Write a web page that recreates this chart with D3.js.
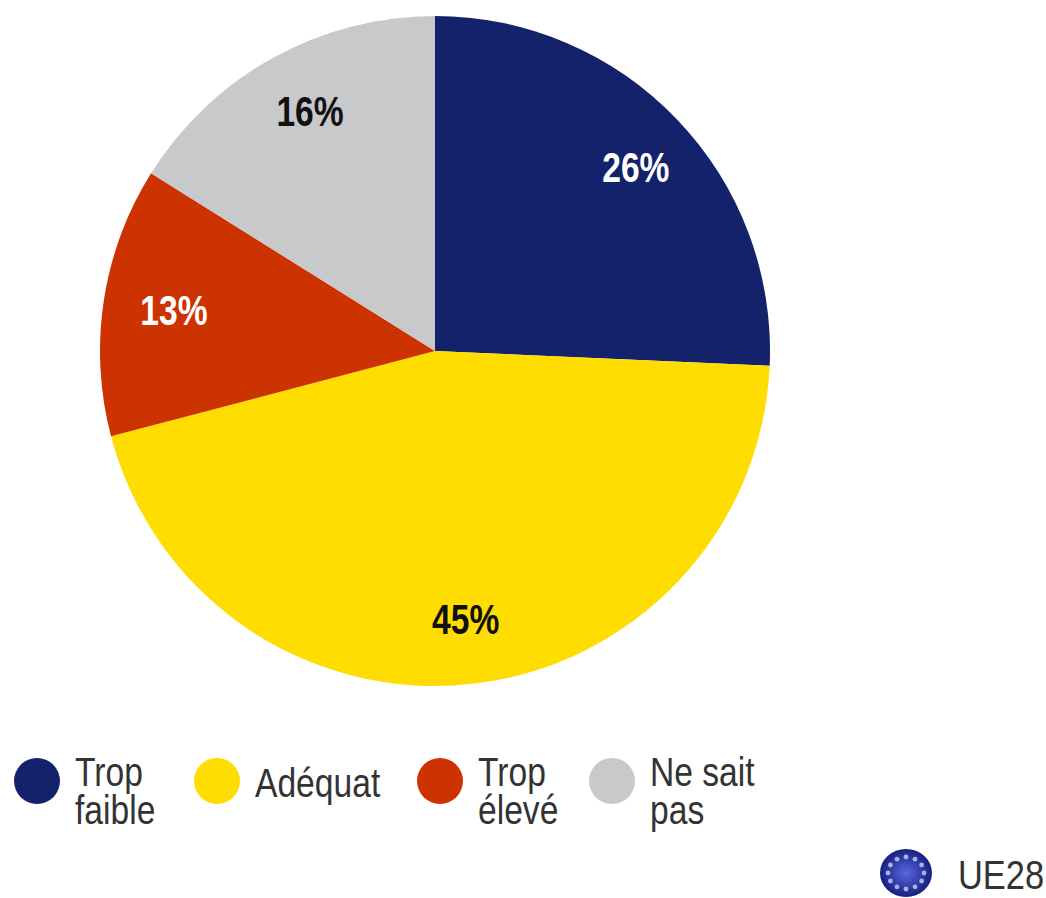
<!DOCTYPE html>
<html>
<head>
<meta charset="utf-8">
<script src="https://cdn.jsdelivr.net/npm/d3@7"></script>
<style>
body { margin: 0; background: #fff; }
text { font-family: "Liberation Sans", Arial, sans-serif; }
</style>
</head>
<body>
<svg></svg>
<script>
var categories = ["Trop faible", "Adéquat", "Trop élevé", "Ne sait pas"];
// slice sizes, labels as printed
var values = [25.7, 45.2, 13.0, 16.1];
var labels = ["26%", "45%", "13%", "16%"];
var colors = ["#14216b", "#ffdd00", "#cc3300", "#c8c9cb"];
var legendLines = [["Trop", "faible"], ["Adéquat"], ["Trop", "élevé"], ["Ne sait", "pas"]];
var legendX = [37, 217, 440, 612];
var labelColors = ["#fff", "#111", "#fff", "#111"];

var svg = d3.select("svg").attr("width", 1046).attr("height", 898)
    .style("display", "block");

var g = svg.append("g").attr("transform", "translate(435,351)");

var pie = d3.pie().value(function(d) { return d; }).sort(null);
var path = d3.arc().outerRadius(335).innerRadius(0);
var label = d3.arc().outerRadius(260).innerRadius(260);
// small shifts from the arc centroid, the labels are placed by hand in the original
var labelShift = [[13, -4], [3, 10], [-4, -2], [1, -12]];

var arc = g.selectAll("g.slice").data(pie(values)).enter().append("g").attr("class", "slice");

arc.append("path")
    .attr("d", path)
    .attr("fill", function(d, i) { return colors[i]; });

arc.append("text")
    .attr("transform", function(d, i) {
        var c = label.centroid(d);
        return "translate(" + (c[0] + labelShift[i][0]) + "," + (c[1] + labelShift[i][1]) + ") scale(0.8,1)";
    })
    .attr("text-anchor", "middle")
    .attr("dy", "0.35em")
    .attr("font-size", 42)
    .attr("font-weight", "bold")
    .attr("fill", function(d, i) { return labelColors[i]; })
    .text(function(d, i) { return labels[i]; });

// legend
var legend = svg.append("g").selectAll("g").data(categories).enter().append("g")
    .attr("transform", function(d, i) { return "translate(" + legendX[i] + ",781)"; });

legend.append("circle")
    .attr("r", 23)
    .attr("fill", function(d, i) { return colors[i]; });

legend.each(function(d, i) {
    var lines = legendLines[i];
    var t = d3.select(this).append("text")
        .attr("transform", "translate(38,0) scale(0.82,1)")
        .attr("font-size", 41)
        .attr("fill", "#333");
    lines.forEach(function(line, j) {
        t.append("tspan")
            .attr("x", 0)
            .attr("y", lines.length == 1 ? 16 : j * 38 + 5)
            .text(line);
    });
});

// UE28 marker
var eu = svg.append("g").attr("transform", "translate(906,873)");
var grad = svg.append("defs").append("radialGradient").attr("id", "eu");
grad.append("stop").attr("offset", "0%").attr("stop-color", "#5a68e0");
grad.append("stop").attr("offset", "100%").attr("stop-color", "#16207f");
eu.append("ellipse").attr("rx", 26).attr("ry", 24).attr("fill", "url(#eu)");
eu.selectAll("circle.star").data(d3.range(12)).enter().append("circle")
    .attr("class", "star")
    .attr("r", 2.4)
    .attr("fill", "#aab0e8")
    .attr("cx", function(d) { return 18 * Math.cos(d * Math.PI / 6); })
    .attr("cy", function(d) { return 16 * Math.sin(d * Math.PI / 6); });

svg.append("text")
    .attr("transform", "translate(958,889) scale(0.84,1)")
    .attr("font-size", 41)
    .attr("fill", "#333")
    .text("UE28");
</script>
</body>
</html>
